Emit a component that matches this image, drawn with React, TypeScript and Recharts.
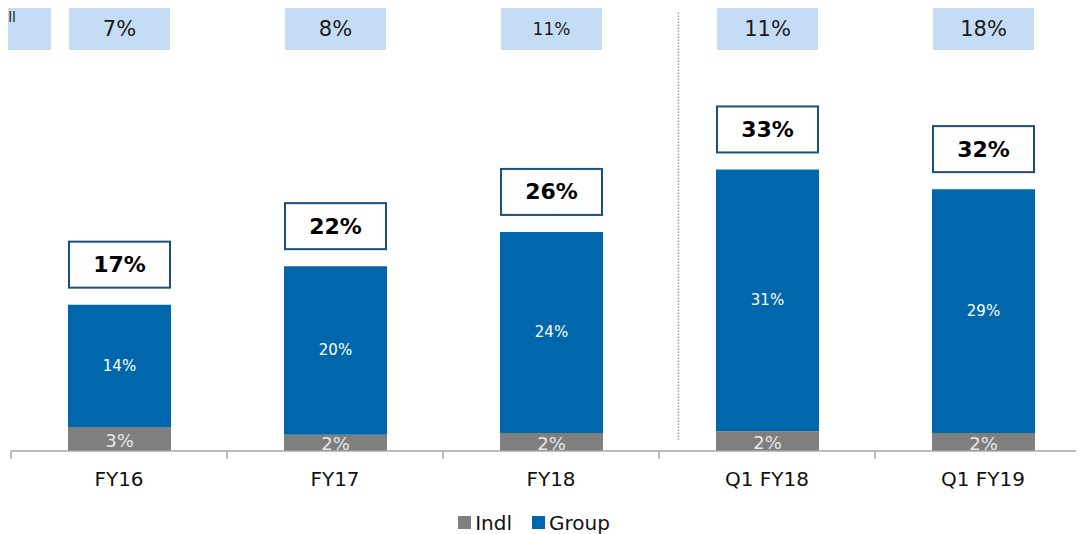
import React from "react";
import { BarChart, Bar, XAxis, YAxis, LabelList, Legend, ReferenceLine } from "recharts";

const categories = ["FY16", "FY17", "FY18", "Q1 FY18", "Q1 FY19"];
const indlValues = [2.8, 1.9, 2.1, 2.3, 2.1];
const groupValues = [14.3, 19.7, 23.5, 30.6, 28.5];
const indlLabels = ["3%", "2%", "2%", "2%", "2%"];
const groupLabels = ["14%", "20%", "24%", "31%", "29%"];
const totalLabels = ["17%", "22%", "26%", "33%", "32%"];
const marketLabels = ["7%", "8%", "11%", "11%", "18%"];
const marketSmall = [false, false, true, false, false];
const separatorCategory = "Q1 FY18";
const separatorFraction = 0.09;

const data = categories.map((c, i) => ({
  name: c,
  indl: indlValues[i],
  group: groupValues[i],
}));

const FONT = "'DejaVu Sans', Verdana, sans-serif";
const W = 1100;
const H = 534;
const ML = 11;
const MR = 9;
const BAND = (W - ML - MR) / categories.length;
const BLUE = "#0067AC";
const GREY = "#7F7F7F";

const XTick = (props: any) => {
  const { x, y, payload, index } = props;
  return (
    <g>
      <line x1={x - BAND / 2} x2={x - BAND / 2} y1={y - 8} y2={y} stroke="#A6A6A6" strokeWidth={1.5} />
      {index === categories.length - 1 && (
        <line x1={x + BAND / 2} x2={x + BAND / 2} y1={y - 8} y2={y} stroke="#A6A6A6" strokeWidth={1.5} />
      )}
      <text x={x} y={y + 27} textAnchor="middle" fontSize={20} fill="#111" fontFamily={FONT}>
        {payload.value}
      </text>
    </g>
  );
};

const MarketBox = (props: any) => {
  const { x, width, index } = props;
  const cx = x + width / 2;
  return (
    <g>
      <rect x={cx - 50.5} y={4} width={101} height={46} fill="#C5DCF5" />
      <text
        x={cx}
        y={29}
        textAnchor="middle"
        dominantBaseline="central"
        fontSize={marketSmall[index] ? 17 : 21}
        fill="#1a1a1a"
        fontFamily={FONT}
      >
        {marketLabels[index]}
      </text>
    </g>
  );
};

const IndlLabel = (props: any) => {
  const { x, y, width, height, index } = props;
  return (
    <text
      x={x + width / 2}
      y={y + height / 2 + 1}
      textAnchor="middle"
      dominantBaseline="central"
      fontSize={18}
      fill="#E8E8E8"
      fontFamily={FONT}
    >
      {indlLabels[index]}
    </text>
  );
};

const GroupLabel = (props: any) => {
  const { x, y, width, height, index } = props;
  return (
    <text
      x={x + width / 2}
      y={y + height / 2}
      textAnchor="middle"
      dominantBaseline="central"
      fontSize={15}
      fill="#FFFFFF"
      fontFamily={FONT}
    >
      {groupLabels[index]}
    </text>
  );
};

const TotalBox = (props: any) => {
  const { x, y, width, index } = props;
  const cx = x + width / 2;
  const bottom = y - 17;
  return (
    <g>
      <rect x={cx - 50.5} y={bottom - 46} width={101} height={46} fill="#FFFFFF" stroke="#1F4E79" strokeWidth={2} />
      <text
        x={cx}
        y={bottom - 23}
        textAnchor="middle"
        dominantBaseline="central"
        fontSize={22}
        fontWeight="bold"
        fill="#000"
        fontFamily={FONT}
      >
        {totalLabels[index]}
      </text>
    </g>
  );
};

const SeparatorShape = (props: any) => {
  const { x1, y1, x2, y2 } = props;
  const dx = separatorFraction * BAND;
  return (
    <line
      x1={x1 + dx}
      x2={x2 + dx}
      y1={y1}
      y2={y2}
      stroke="#A0A0A0"
      strokeWidth={1.5}
      strokeDasharray="1.5 1.5"
    />
  );
};

const LegendContent = () => (
  <div
    style={{
      height: 43,
      display: "flex",
      justifyContent: "center",
      alignItems: "flex-end",
      fontFamily: FONT,
      fontSize: 20,
      color: "#111",
    }}
  >
    <div style={{ display: "flex", alignItems: "center", marginRight: 20, height: 23, marginLeft: -34 }}>
      <span style={{ width: 13, height: 13, background: GREY, display: "inline-block", marginRight: 4 }} />
      <span>Indl</span>
    </div>
    <div style={{ display: "flex", alignItems: "center", height: 23 }}>
      <span style={{ width: 13, height: 13, background: BLUE, display: "inline-block", marginRight: 4 }} />
      <span>Group</span>
    </div>
  </div>
);

export default function App() {
  return (
    <div style={{ marginLeft: -8, marginTop: -8, width: W, height: H, position: "relative", overflow: "hidden" }}>
      <div
        style={{
          position: "absolute",
          left: 0,
          top: 4,
          width: 51,
          height: 46,
          background: "#C5DCF5",
        }}
      />
      <div
        style={{
          position: "absolute",
          left: -184,
          width: 200,
          top: 9,
          fontFamily: FONT,
          fontSize: 14,
          lineHeight: "16px",
          color: "#1a1a1a",
          textAlign: "right",
          whiteSpace: "nowrap",
        }}
      >
        <div>Overall</div>
        <div style={{ marginRight: 9, fontSize: 12 }}>Market</div>
      </div>
      <div style={{ position: "absolute", left: 0, top: 0 }}>
        <BarChart width={W} height={H} data={data} margin={{ top: 6, right: MR, left: ML, bottom: 0 }} barSize={103}>
          <XAxis
            dataKey="name"
            height={40}
            tickLine={false}
            axisLine={{ stroke: "#A6A6A6", strokeWidth: 1.5 }}
            tick={<XTick />}
            interval={0}
          />
          <YAxis hide domain={[0, 52]} />
          <ReferenceLine
            segment={[
              { x: separatorCategory, y: 1.3 },
              { x: separatorCategory, y: 51.3 },
            ]}
            position="start"
            ifOverflow="visible"
            shape={<SeparatorShape />}
          />
          <Legend verticalAlign="bottom" content={<LegendContent />} />
          <Bar dataKey="indl" name="Indl" stackId="a" fill={GREY} isAnimationActive={false}>
            <LabelList dataKey="indl" content={<IndlLabel />} />
            <LabelList dataKey="indl" content={<MarketBox />} />
          </Bar>
          <Bar dataKey="group" name="Group" stackId="a" fill={BLUE} isAnimationActive={false}>
            <LabelList dataKey="group" content={<GroupLabel />} />
            <LabelList dataKey="group" content={<TotalBox />} />
          </Bar>
        </BarChart>
      </div>
    </div>
  );
}
